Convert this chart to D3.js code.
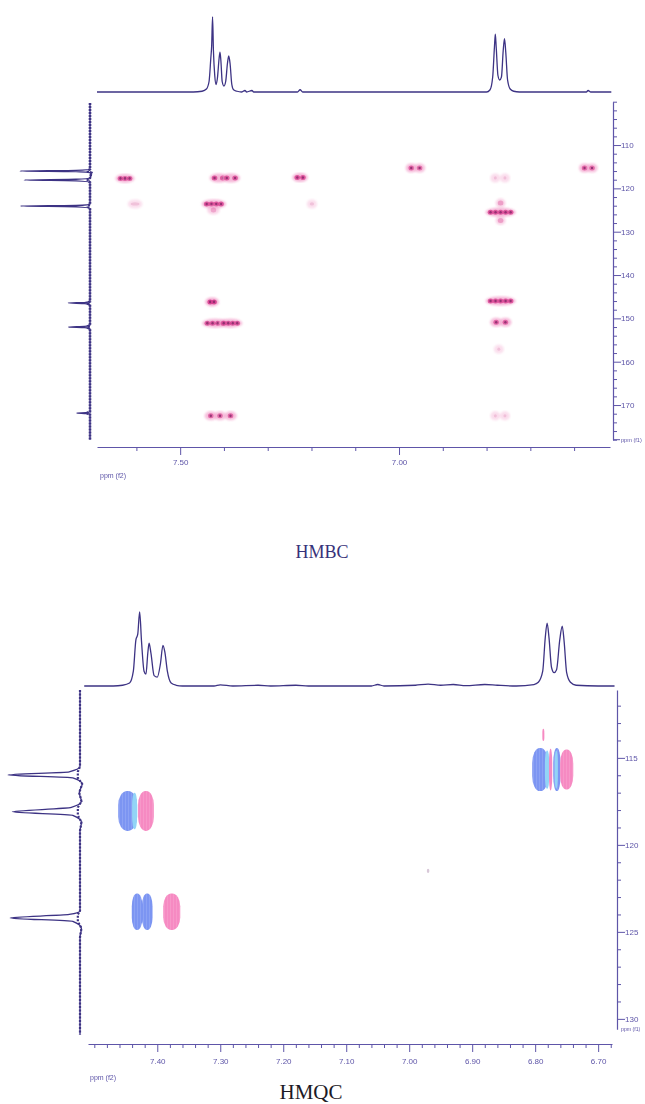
<!DOCTYPE html>
<html><head><meta charset="utf-8">
<script src="https://cdn.jsdelivr.net/npm/d3@7"></script>
<style>body{margin:0;background:#fff}svg{display:block}</style>
</head><body><svg id="c" width="645" height="1104"></svg>
<script>
// ---------------- DATA ----------------
// HMBC 1H projection (f2): [ppm, relative intensity]
const hmbcF2Trace = [[7.690,0],[7.470,0],[7.450,1],[7.440,4],[7.434,14],[7.430,45],[7.428,62],[7.426,100],[7.424,55],[7.421,22],[7.418,10],[7.415,18],[7.411,45],[7.409,53],[7.407,42],[7.404,14],[7.400,8],[7.396,14],[7.392,38],[7.389,48],[7.386,38],[7.382,10],[7.378,3],[7.370,1],[7.360,0],[7.352,2],[7.348,0],[7.336,2],[7.332,0],[7.232,0],[7.226,3],[7.220,0],[6.800,0],[6.792,3],[6.786,20],[6.782,60],[6.780,77],[6.778,60],[6.774,22],[6.770,16],[6.766,20],[6.762,55],[6.759,71],[6.756,52],[6.752,16],[6.746,4],[6.738,1],[6.725,0],[6.572,0],[6.568,2],[6.562,0],[6.515,0]];
// HMBC 13C projection (f1): [ppm, relative intensity]
const hmbcF1Trace = [[100.3,0],[115.6,0],[115.85,20],[116.0,100],[116.15,20],[116.4,-2],[117.6,0],[117.9,20],[118.08,94],[118.25,20],[118.6,0],[123.7,0],[123.95,20],[124.08,99],[124.25,20],[124.6,0],[146.1,0],[146.35,8],[146.46,31],[146.6,8],[146.85,0],[151.6,0],[151.85,8],[152.0,31],[152.15,8],[152.4,0],[171.5,0],[171.75,6],[171.85,19],[172.0,6],[172.2,0],[178,0]];
// HMBC cross peaks
const hmbcCrossF2 = [7.626,7.412,7.384,7.226,6.972,6.953,6.576,6.559,6.780,6.758,7.423,7.424,7.603,7.199,6.768,6.768,6.768,7.427,6.768,7.420,7.385,6.778,6.757,6.772,7.430,7.409,7.385,6.780,6.758];
const hmbcCrossF1 = [117.7,117.6,117.6,117.5,115.3,115.3,115.3,115.3,117.6,117.6,123.6,125.0,123.6,123.6,125.5,123.4,127.4,146.2,146.0,151.1,151.1,150.9,150.9,157.1,172.5,172.5,172.5,172.5,172.5];
const hmbcCrossW  = [0.030,0.028,0.028,0.022,0.012,0.012,0.012,0.012,0.006,0.006,0.042,0.015,0.020,0.010,0.055,0.008,0.008,0.018,0.055,0.045,0.040,0.014,0.014,0.005,0.015,0.015,0.015,0.005,0.005];
const hmbcCrossI  = [0.8,0.9,0.85,0.9,0.8,0.7,0.8,0.7,0.2,0.2,0.9,0.35,0.15,0.15,0.9,0.4,0.4,1.0,0.9,0.85,0.85,0.8,0.8,0.15,0.75,0.7,0.75,0.2,0.2];
const hmbcF2Ticks = [7.6,7.5,7.4,7.3,7.2,7.1,7.0,6.9,6.8,6.7,6.6];
const hmbcF2Labels = [7.5,7.0];
const hmbcF1Labels = [110,120,130,140,150,160,170];

// HMQC 1H projection (f2)
const hmqcF2Trace = [[7.516,0],[7.470,0],[7.455,1],[7.444,4],[7.438,20],[7.434,62],[7.431,70],[7.428,100],[7.425,60],[7.421,20],[7.418,16],[7.415,45],[7.413,58],[7.410,44],[7.405,14],[7.400,12],[7.395,30],[7.391,55],[7.388,46],[7.384,20],[7.378,4],[7.370,1],[7.360,0],[7.310,0],[7.300,1.5],[7.280,0],[7.240,1],[7.220,0],[7.180,1],[7.160,0],[7.060,0],[7.050,2],[7.040,0],[6.990,1],[6.970,2.5],[6.950,1],[6.930,2],[6.910,0.5],[6.880,2],[6.860,1],[6.830,0],[6.802,2],[6.795,5],[6.788,20],[6.784,65],[6.781,85],[6.778,65],[6.774,25],[6.770,18],[6.766,22],[6.761,62],[6.757,81],[6.754,60],[6.750,18],[6.744,5],[6.735,1],[6.700,0],[6.674,0]];
// HMQC 13C projection (f1)
const hmqcF1Trace = [[111.1,0],[115.5,0],[115.8,15],[115.98,100],[116.15,10],[116.5,-3],[117.0,1],[117.5,-2],[117.85,12],[118.1,94],[118.3,10],[118.7,-2],[119.2,0],[123.8,0],[124.0,15],[124.2,97],[124.4,10],[124.8,-2],[125.3,0],[130.9,0]];
// HMQC cross-peak lobes
const hmqcLobeF2 = [6.792,6.781,6.7755,6.7655,6.7665,6.750,6.787,7.447,7.436,7.418,7.432,7.416,7.377,6.970];
const hmqcLobeHW = [0.0127,0.0035,0.0026,0.0058,0.0025,0.0105,0.0016,0.0150,0.0040,0.0125,0.0085,0.0085,0.0135,0.002];
const hmqcLobeF1 = [115.67,115.67,115.67,115.67,115.67,115.67,113.68,118.05,118.05,118.05,123.85,123.85,123.85,121.5];
const hmqcLobeHH = [1.24,1.1,1.2,1.24,1.1,1.15,0.35,1.15,1.05,1.15,1.05,1.05,1.05,0.12];
const hmqcLobePhase = ["neg","mid","pos","neg","mid","pos","pos","neg","mid","pos","neg","neg","pos","faint"];
const hmqcF2Labels = [7.4,7.3,7.2,7.1,7.0,6.9,6.8,6.7];
const hmqcF1Labels = [115,120,125,130];

// ---------------- DRAW ----------------
const svg = d3.select("#c");
const FONT = "'Liberation Sans', Arial, sans-serif";
const AX = "#5e55a8";
const TR = "#3d3384";

const defs = svg.append("defs");
const pat = defs.append("pattern").attr("id","stripes").attr("patternUnits","userSpaceOnUse")
  .attr("width",3).attr("height",3);
pat.append("rect").attr("x",2).attr("width",1).attr("height",3).attr("fill","#fff").attr("opacity",0.12);
defs.append("filter").attr("id","blur").append("feGaussianBlur").attr("stdDeviation",0.9);
defs.append("filter").attr("id","blur1").append("feGaussianBlur").attr("stdDeviation",0.55);
defs.append("filter").attr("id","blur2").append("feGaussianBlur").attr("stdDeviation",0.35);

function styleAxis(g, size){
  g.select(".domain").attr("stroke",AX).attr("stroke-width",1.2);
  g.selectAll(".tick line").attr("stroke",AX);
  g.selectAll(".tick text").attr("fill",AX).attr("font-family",FONT).attr("font-size",size).attr("filter","url(#blur2)");
}
const near = (a,b)=>Math.abs(a-b)<1e-6;

// ===== HMBC =====
const xB = d3.scaleLinear().domain([7.69, 6.518]).range([97, 610]);
const yB = d3.scaleLinear().domain([100, 178]).range([101.7, 439.7]);
const iBtop = d3.scaleLinear().domain([0,100]).range([92, 17]);
const iBleft = d3.scaleLinear().domain([0,100]).range([90, 20]);

svg.append("path").datum(hmbcF2Trace)
  .attr("d", d3.line().x(d=>xB(d[0])).y(d=>iBtop(d[1])).curve(d3.curveMonotoneX))
  .attr("fill","none").attr("stroke",TR).attr("stroke-width",1.3);
svg.append("path").datum(hmbcF1Trace)
  .attr("d", d3.line().x(d=>iBleft(d[1])).y(d=>yB(d[0])).curve(d3.curveMonotoneY))
  .attr("fill","none").attr("stroke",TR).attr("stroke-width",1.3);
svg.append("path").datum(hmbcF1Trace)
  .attr("d", d3.line().x(d=>iBleft(Math.min(d[1],3))).y(d=>yB(d[0])))
  .attr("fill","none").attr("stroke",TR).attr("stroke-width",2.6).attr("stroke-dasharray","2,1");

// cross peaks
const gB = svg.append("g");
hmbcCrossF2.forEach((f2,i)=>{
  const cx = xB(f2), cy = yB(hmbcCrossF1[i]);
  const w = Math.abs(xB(f2 + hmbcCrossW[i]/2) - xB(f2 - hmbcCrossW[i]/2));
  const I = hmbcCrossI[i];
  const g = gB.append("g").attr("transform",`translate(${cx},${cy})`);
  g.append("ellipse").attr("rx", Math.max(w/2,2)+3).attr("ry",4.5)
    .attr("fill","#f3a2cc").attr("opacity",0.25+0.6*I).attr("filter","url(#blur)");
  if (I>0.3){
    const n = Math.max(1, Math.round(w/5));
    const gd = g.append("g").attr("filter","url(#blur1)");
    for(let k=0;k<n;k++){
      const dx = n===1?0:(-w/2+2 + k*(w-4)/(n-1));
      gd.append("ellipse").attr("cx",dx).attr("rx",2.8).attr("ry",2.5)
        .attr("fill","#d63a8c").attr("opacity",0.85*I);
      if (I>0.6) gd.append("ellipse").attr("cx",dx).attr("rx",1.2).attr("ry",1.3).attr("fill","#7d2364").attr("opacity",0.75);
    }
  } else {
    g.append("ellipse").attr("rx",Math.max(w/2,1.5)).attr("ry",1.6).attr("fill","#e6a0c4").attr("opacity",0.45).attr("filter","url(#blur1)");
  }
});

// axes
const axB = svg.append("g").attr("transform","translate(0,447)")
  .call(d3.axisBottom(xB).tickValues(hmbcF2Ticks).tickSize(4).tickSizeOuter(0).tickPadding(8)
    .tickFormat(d=> hmbcF2Labels.some(v=>near(v,d)) ? d.toFixed(2) : ""));
axB.selectAll(".tick").filter(d=>hmbcF2Labels.some(v=>near(v,d))).select("line").attr("y2",8);
styleAxis(axB, 8);
svg.append("text").attr("x",100).attr("y",478).text("ppm (f2)")
  .attr("font-family",FONT).attr("font-size",7).attr("fill",AX).attr("filter","url(#blur2)");

const ayB = svg.append("g").attr("transform","translate(613,0)")
  .call(d3.axisRight(yB).tickValues(d3.range(100,179,2)).tickSize(4).tickSizeOuter(0).tickPadding(4)
    .tickFormat(d=> hmbcF1Labels.includes(d) ? d : ""));
ayB.selectAll(".tick").filter(d=>hmbcF1Labels.includes(d)).select("line").attr("x2",8);
styleAxis(ayB, 8);
svg.append("line").attr("x1",613).attr("x2",620).attr("y1",439.7).attr("y2",439.7).attr("stroke",AX);
svg.append("text").attr("x",621).attr("y",441.5).text("ppm (f1)")
  .attr("font-family",FONT).attr("font-size",5.6).attr("fill",AX).attr("filter","url(#blur2)");

svg.append("text").attr("x",322).attr("y",558).attr("text-anchor","middle").text("HMBC")
  .attr("font-family","'Liberation Serif','Times New Roman',serif").attr("font-size",18).attr("fill","#37327a");

// ===== HMQC =====
const xQ = d3.scaleLinear().domain([7.51, 6.678]).range([88, 612]);
const yQ = d3.scaleLinear().domain([111.1, 130.6]).range([690, 1029.3]);
const iQtop = d3.scaleLinear().domain([0,100]).range([686, 612]);
const iQleft = d3.scaleLinear().domain([0,100]).range([80, 8]);

svg.append("path").datum(hmqcF2Trace)
  .attr("d", d3.line().x(d=>xQ(d[0])).y(d=>iQtop(d[1])).curve(d3.curveMonotoneX))
  .attr("fill","none").attr("stroke",TR).attr("stroke-width",1.3);
svg.append("path").datum(hmqcF1Trace)
  .attr("d", d3.line().x(d=>iQleft(d[1])).y(d=>yQ(d[0])).curve(d3.curveMonotoneY))
  .attr("fill","none").attr("stroke",TR).attr("stroke-width",1.3);
svg.append("path").datum(hmqcF1Trace)
  .attr("d", d3.line().x(d=>iQleft(Math.max(-3,Math.min(d[1],3)))).y(d=>yQ(d[0])))
  .attr("fill","none").attr("stroke",TR).attr("stroke-width",2.2).attr("stroke-dasharray","2,1.5");

const lobeColor = {neg:"#7c95f2", mid:"#93d4f6", pos:"#f68ac2", faint:"#d8c8d8"};
const gQ = svg.append("g");
hmqcLobeF2.forEach((f2,i)=>{
  const cx = xQ(f2), cy = yQ(hmqcLobeF1[i]);
  const rx = Math.abs(xQ(f2+hmqcLobeHW[i]) - cx);
  const ry = Math.abs(yQ(hmqcLobeF1[i]+hmqcLobeHH[i]) - cy);
  const ph = hmqcLobePhase[i];
  const rr = ph==="faint" ? rx : rx*0.95;
  const rry = ph==="faint" ? ry : Math.min(ry*0.7, 16);
  gQ.append("rect").attr("x",cx-rx).attr("y",cy-ry).attr("width",2*rx).attr("height",2*ry)
    .attr("rx",rr).attr("ry",rry)
    .attr("fill",lobeColor[ph]).attr("filter","url(#blur2)");
  if (ph!=="faint" && rx>3)
    gQ.append("rect").attr("x",cx-rx).attr("y",cy-ry).attr("width",2*rx).attr("height",2*ry)
      .attr("rx",rr).attr("ry",rry).attr("fill","url(#stripes)");
});

const axQ = svg.append("g").attr("transform","translate(0,1044)")
  .call(d3.axisBottom(xQ).tickValues(d3.range(0,42).map(k=>+(7.50-k*0.02).toFixed(2)))
    .tickSize(4).tickSizeOuter(0).tickPadding(10)
    .tickFormat(d=> hmqcF2Labels.some(v=>near(v,d)) ? d.toFixed(2) : ""));
axQ.selectAll(".tick").filter(d=>hmqcF2Labels.some(v=>near(v,d))).select("line").attr("y2",8);
styleAxis(axQ, 8);
svg.append("text").attr("x",90).attr("y",1080).text("ppm (f2)")
  .attr("font-family",FONT).attr("font-size",7).attr("fill",AX).attr("filter","url(#blur2)");

const ayQ = svg.append("g").attr("transform","translate(617,0)")
  .call(d3.axisRight(yQ).tickValues(d3.range(112,131,1)).tickSize(4).tickSizeOuter(0).tickPadding(4)
    .tickFormat(d=> hmqcF1Labels.includes(d) ? d : ""));
ayQ.selectAll(".tick").filter(d=>hmqcF1Labels.includes(d)).select("line").attr("x2",8);
styleAxis(ayQ, 8);
svg.append("text").attr("x",621).attr("y",1031).text("ppm (f1)")
  .attr("font-family",FONT).attr("font-size",5.2).attr("fill",AX).attr("filter","url(#blur2)");

svg.append("text").attr("x",311).attr("y",1099).attr("text-anchor","middle").text("HMQC")
  .attr("font-family","'Liberation Serif','Times New Roman',serif").attr("font-size",21).attr("fill","#1c1a26");
</script>
</body></html>
